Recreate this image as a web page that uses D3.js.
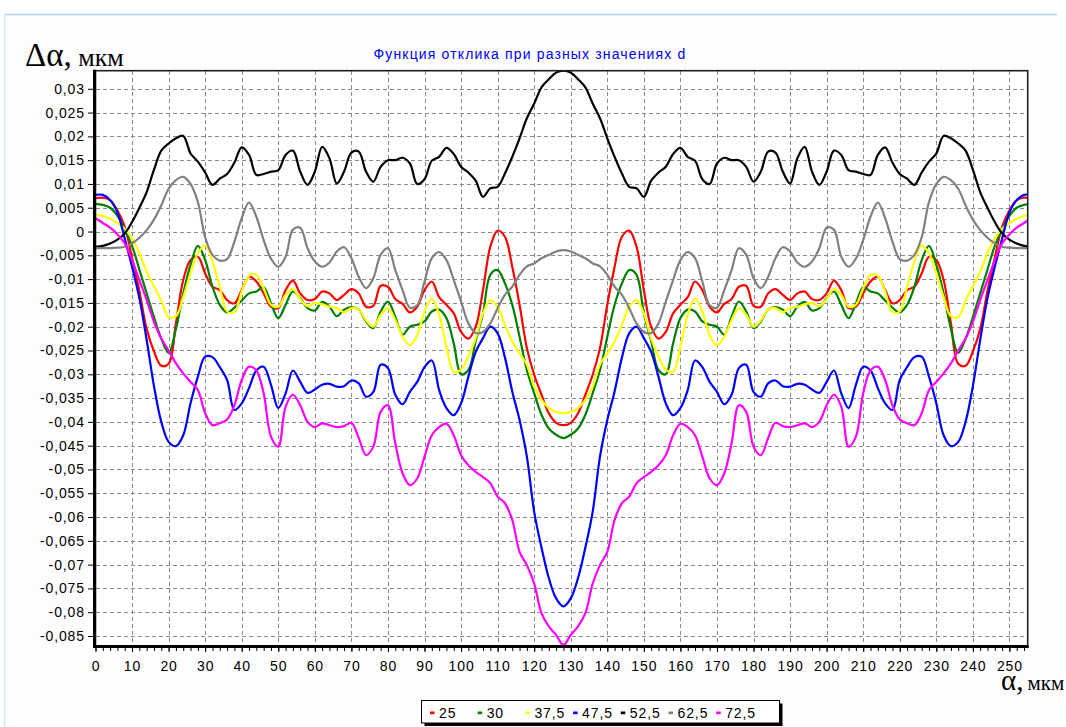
<!DOCTYPE html>
<html><head><meta charset="utf-8">
<script src="https://cdn.jsdelivr.net/npm/d3@7"></script>
<style>body{margin:0;background:#fff}svg{display:block}</style>
</head><body>
<svg id="chart" width="1066" height="727"></svg>
<script>
// ---------- data ----------
const alpha = d3.range(0, 257, 2); // α, мкм (x positions 0..256 step 2)
const seriesNames = ["25", "30", "37,5", "47,5", "52,5", "62,5", "72,5"];
const seriesColors = ["#ff0000", "#008000", "#ffff00", "#0000ff", "#000000", "#808080", "#ff00ff"];
const xTicks = [0,10,20,30,40,50,60,70,80,90,100,110,120,130,140,150,160,170,180,190,200,210,220,230,240,250];
const yTicks = [0.03,0.025,0.02,0.015,0.01,0.005,0,-0.005,-0.01,-0.015,-0.02,-0.025,-0.03,-0.035,-0.04,-0.045,-0.05,-0.055,-0.06,-0.065,-0.07,-0.075,-0.08,-0.085];

const d25 = [0.0070,0.0071,0.0066,0.0044,0.0010,-0.0055,-0.0125,-0.0205,-0.0252,-0.0282,
-0.0278,-0.0193,-0.0102,-0.0060,-0.0053,-0.0088,-0.0116,-0.0123,-0.0144,-0.0151,
-0.0123,-0.0095,-0.0105,-0.0130,-0.0158,-0.0161,-0.0123,-0.0103,-0.0130,-0.0144,
-0.0142,-0.0126,-0.0130,-0.0144,-0.0133,-0.0121,-0.0130,-0.0158,-0.0156,-0.0114,
-0.0116,-0.0142,-0.0152,-0.0170,-0.0158,-0.0123,-0.0105,-0.0138,-0.0154,-0.0172,
-0.0211,-0.0225,-0.0200,-0.0123,-0.0032,0.0002,-0.0011,-0.0074,-0.0154,-0.0245,
-0.0301,-0.0343,-0.0382,-0.0402,-0.0407,
-0.0402,-0.0382,-0.0343,-0.0301,-0.0245,-0.0154,-0.0074,-0.0011,0.0002,-0.0032,
-0.0123,-0.0200,-0.0225,-0.0211,-0.0172,-0.0154,-0.0138,-0.0105,-0.0123,-0.0158,
-0.0170,-0.0152,-0.0142,-0.0116,-0.0114,-0.0156,-0.0158,-0.0130,-0.0121,-0.0133,
-0.0144,-0.0130,-0.0126,-0.0142,-0.0144,-0.0130,-0.0103,-0.0123,-0.0161,-0.0158,
-0.0130,-0.0105,-0.0095,-0.0123,-0.0151,-0.0144,-0.0123,-0.0116,-0.0088,-0.0053,
-0.0060,-0.0102,-0.0193,-0.0278,-0.0282,-0.0252,-0.0205,-0.0125,-0.0055,0.0010,
0.0044,0.0066,0.0071,0.0070];

const d30 = [0.0058,0.0056,0.0050,0.0033,0.0005,-0.0030,-0.0080,-0.0130,-0.0180,-0.0225,
-0.0255,-0.0205,-0.0130,-0.0070,-0.0030,-0.0060,-0.0116,-0.0154,-0.0170,-0.0160,
-0.0145,-0.0130,-0.0126,-0.0117,-0.0151,-0.0182,-0.0154,-0.0126,-0.0140,-0.0161,
-0.0166,-0.0148,-0.0158,-0.0178,-0.0164,-0.0159,-0.0164,-0.0189,-0.0203,-0.0168,
-0.0147,-0.0179,-0.0217,-0.0200,-0.0196,-0.0189,-0.0168,-0.0164,-0.0182,-0.0235,
-0.0300,-0.0291,-0.0230,-0.0172,-0.0091,-0.0081,-0.0109,-0.0154,-0.0221,-0.0291,
-0.0340,-0.0385,-0.0414,-0.0427,-0.0434,
-0.0427,-0.0414,-0.0385,-0.0340,-0.0291,-0.0221,-0.0154,-0.0109,-0.0081,-0.0091,
-0.0172,-0.0230,-0.0291,-0.0300,-0.0235,-0.0182,-0.0164,-0.0168,-0.0189,-0.0196,
-0.0200,-0.0217,-0.0179,-0.0147,-0.0168,-0.0203,-0.0189,-0.0164,-0.0159,-0.0164,
-0.0178,-0.0158,-0.0148,-0.0166,-0.0161,-0.0140,-0.0126,-0.0154,-0.0182,-0.0151,
-0.0117,-0.0126,-0.0130,-0.0145,-0.0160,-0.0170,-0.0154,-0.0116,-0.0060,-0.0030,
-0.0070,-0.0130,-0.0205,-0.0255,-0.0225,-0.0180,-0.0130,-0.0080,-0.0030,0.0005,
0.0033,0.0050,0.0056,0.0058];

const d37_5 = [0.0035,0.0033,0.0027,0.0018,0.0006,-0.0015,-0.0045,-0.0085,-0.0115,-0.0145,
-0.0180,-0.0178,-0.0138,-0.0088,-0.0046,-0.0029,-0.0063,-0.0116,-0.0168,-0.0170,
-0.0126,-0.0093,-0.0091,-0.0119,-0.0154,-0.0158,-0.0133,-0.0121,-0.0142,-0.0157,
-0.0150,-0.0153,-0.0158,-0.0161,-0.0170,-0.0161,-0.0164,-0.0187,-0.0200,-0.0175,
-0.0161,-0.0186,-0.0221,-0.0239,-0.0218,-0.0168,-0.0141,-0.0175,-0.0242,-0.0295,
-0.0290,-0.0262,-0.0225,-0.0172,-0.0144,-0.0158,-0.0196,-0.0231,-0.0256,-0.0280,
-0.0326,-0.0354,-0.0371,-0.0379,-0.0382,
-0.0379,-0.0371,-0.0354,-0.0326,-0.0280,-0.0256,-0.0231,-0.0196,-0.0158,-0.0144,
-0.0172,-0.0225,-0.0262,-0.0290,-0.0295,-0.0242,-0.0175,-0.0141,-0.0168,-0.0218,
-0.0239,-0.0221,-0.0186,-0.0161,-0.0175,-0.0200,-0.0187,-0.0164,-0.0161,-0.0170,
-0.0161,-0.0158,-0.0153,-0.0150,-0.0157,-0.0142,-0.0121,-0.0133,-0.0158,-0.0154,
-0.0119,-0.0091,-0.0093,-0.0126,-0.0170,-0.0168,-0.0116,-0.0063,-0.0029,-0.0046,
-0.0088,-0.0138,-0.0178,-0.0180,-0.0145,-0.0115,-0.0085,-0.0045,-0.0015,0.0006,
0.0018,0.0027,0.0033,0.0035];

const d47_5 = [0.0077,0.0077,0.0066,0.0040,-0.0015,-0.0074,-0.0140,-0.0228,-0.0325,-0.0400,
-0.0442,-0.0451,-0.0428,-0.0361,-0.0305,-0.0263,-0.0264,-0.0285,-0.0312,-0.0375,
-0.0361,-0.0329,-0.0292,-0.0284,-0.0322,-0.0371,-0.0340,-0.0292,-0.0316,-0.0339,
-0.0332,-0.0322,-0.0320,-0.0326,-0.0325,-0.0313,-0.0319,-0.0347,-0.0337,-0.0280,
-0.0287,-0.0343,-0.0363,-0.0337,-0.0316,-0.0285,-0.0271,-0.0333,-0.0371,-0.0386,
-0.0361,-0.0305,-0.0253,-0.0224,-0.0200,-0.0214,-0.0265,-0.0336,-0.0396,-0.0473,
-0.0589,-0.0664,-0.0728,-0.0771,-0.0788,
-0.0771,-0.0728,-0.0664,-0.0589,-0.0473,-0.0396,-0.0336,-0.0265,-0.0214,-0.0200,
-0.0224,-0.0253,-0.0305,-0.0361,-0.0386,-0.0371,-0.0333,-0.0271,-0.0285,-0.0316,
-0.0337,-0.0363,-0.0343,-0.0287,-0.0280,-0.0337,-0.0347,-0.0319,-0.0313,-0.0325,
-0.0326,-0.0320,-0.0322,-0.0332,-0.0339,-0.0316,-0.0292,-0.0340,-0.0371,-0.0322,
-0.0284,-0.0292,-0.0329,-0.0361,-0.0375,-0.0312,-0.0285,-0.0264,-0.0263,-0.0305,
-0.0361,-0.0428,-0.0451,-0.0442,-0.0400,-0.0325,-0.0228,-0.0140,-0.0074,-0.0015,
0.0040,0.0066,0.0077,0.0077];

const d52_5 = [-0.0032,-0.0030,-0.0025,-0.0017,-0.0004,0.0020,0.0050,0.0083,0.0130,0.0170,
0.0185,0.0196,0.0201,0.0164,0.0147,0.0124,0.0098,0.0111,0.0121,0.0145,
0.0177,0.0161,0.0119,0.0121,0.0126,0.0129,0.0161,0.0170,0.0126,0.0098,
0.0126,0.0178,0.0154,0.0101,0.0126,0.0166,0.0168,0.0126,0.0105,0.0136,
0.0150,0.0150,0.0155,0.0143,0.0100,0.0110,0.0149,0.0157,0.0176,0.0163,
0.0136,0.0124,0.0107,0.0073,0.0091,0.0094,0.0122,0.0157,0.0196,0.0238,
0.0269,0.0303,0.0320,0.0334,0.0338,
0.0334,0.0320,0.0303,0.0269,0.0238,0.0196,0.0157,0.0122,0.0094,0.0091,
0.0073,0.0107,0.0124,0.0136,0.0163,0.0176,0.0157,0.0149,0.0110,0.0100,
0.0143,0.0155,0.0150,0.0150,0.0136,0.0105,0.0126,0.0168,0.0166,0.0126,
0.0101,0.0154,0.0178,0.0126,0.0098,0.0126,0.0170,0.0161,0.0129,0.0126,
0.0121,0.0119,0.0161,0.0177,0.0145,0.0121,0.0111,0.0098,0.0124,0.0147,
0.0164,0.0201,0.0196,0.0185,0.0170,0.0130,0.0083,0.0050,0.0020,-0.0004,
-0.0017,-0.0025,-0.0030,-0.0032];

const d62_5 = [-0.0035,-0.0035,-0.0035,-0.0034,-0.0032,-0.0025,-0.0013,0.0003,0.0025,0.0055,
0.0090,0.0108,0.0115,0.0100,0.0062,-0.0012,-0.0049,-0.0061,-0.0058,-0.0021,
0.0028,0.0061,0.0031,-0.0018,-0.0057,-0.0074,-0.0053,0.0004,0.0008,-0.0035,
-0.0063,-0.0074,-0.0065,-0.0042,-0.0033,-0.0056,-0.0095,-0.0119,-0.0098,-0.0049,
-0.0035,-0.0081,-0.0123,-0.0160,-0.0155,-0.0105,-0.0056,-0.0043,-0.0060,-0.0102,
-0.0147,-0.0193,-0.0213,-0.0211,-0.0193,-0.0161,-0.0133,-0.0116,-0.0091,-0.0073,
-0.0067,-0.0056,-0.0049,-0.0042,-0.0039,
-0.0042,-0.0049,-0.0056,-0.0067,-0.0073,-0.0091,-0.0116,-0.0133,-0.0161,-0.0193,
-0.0211,-0.0213,-0.0193,-0.0147,-0.0102,-0.0060,-0.0043,-0.0056,-0.0105,-0.0155,
-0.0160,-0.0123,-0.0081,-0.0035,-0.0049,-0.0098,-0.0119,-0.0095,-0.0056,-0.0033,
-0.0042,-0.0065,-0.0074,-0.0063,-0.0035,0.0008,0.0004,-0.0053,-0.0074,-0.0057,
-0.0018,0.0031,0.0061,0.0028,-0.0021,-0.0058,-0.0061,-0.0049,-0.0012,0.0062,
0.0100,0.0115,0.0108,0.0090,0.0055,0.0025,0.0003,-0.0013,-0.0025,-0.0032,
-0.0034,-0.0035,-0.0035,-0.0035];

const d72_5 = [0.0028,0.0018,0.0008,-0.0006,-0.0025,-0.0060,-0.0102,-0.0144,-0.0190,-0.0225,
-0.0250,-0.0277,-0.0298,-0.0316,-0.0333,-0.0382,-0.0407,-0.0403,-0.0395,-0.0365,
-0.0312,-0.0284,-0.0292,-0.0340,-0.0431,-0.0452,-0.0368,-0.0343,-0.0365,-0.0400,
-0.0411,-0.0403,-0.0407,-0.0411,-0.0409,-0.0402,-0.0434,-0.0470,-0.0452,-0.0379,
-0.0365,-0.0445,-0.0508,-0.0533,-0.0519,-0.0473,-0.0428,-0.0411,-0.0404,-0.0428,
-0.0470,-0.0491,-0.0505,-0.0516,-0.0529,-0.0557,-0.0571,-0.0606,-0.0673,-0.0701,
-0.0740,-0.0802,-0.0830,-0.0848,-0.0869,
-0.0848,-0.0830,-0.0802,-0.0740,-0.0701,-0.0673,-0.0606,-0.0571,-0.0557,-0.0529,
-0.0516,-0.0505,-0.0491,-0.0470,-0.0428,-0.0404,-0.0411,-0.0428,-0.0473,-0.0519,
-0.0533,-0.0508,-0.0445,-0.0365,-0.0379,-0.0452,-0.0470,-0.0434,-0.0402,-0.0409,
-0.0411,-0.0407,-0.0403,-0.0411,-0.0400,-0.0365,-0.0343,-0.0368,-0.0452,-0.0431,
-0.0340,-0.0292,-0.0284,-0.0312,-0.0365,-0.0395,-0.0403,-0.0407,-0.0382,-0.0333,
-0.0316,-0.0298,-0.0277,-0.0250,-0.0225,-0.0190,-0.0144,-0.0102,-0.0060,-0.0025,
-0.0006,0.0008,0.0018,0.0028];

const seriesValues = [d25, d30, d37_5, d47_5, d52_5, d62_5, d72_5];

// ---------- layout ----------
const L = 95.5, R = 1027.7, T = 70.7, B = 646;
const x = d3.scaleLinear().domain([0, 255]).range([L, R]);
const y = d3.scaleLinear().domain([-0.0871, 0.0338]).range([B, T]);
const fmt = v => { const s = String(+v.toFixed(3)); return (s === "-0" ? "0" : s).replace(".", ","); };
const FONT = "'Liberation Sans', Arial, sans-serif";
const SERIF = "'Liberation Serif', 'Times New Roman', serif";

const svg = d3.select("#chart");
svg.append("rect").attr("width", 1066).attr("height", 727).attr("fill", "#ffffff");
svg.append("rect").attr("x", 4).attr("y", 14).attr("width", 1053).attr("height", 720).attr("fill", "#fdfdfd");
svg.append("line").attr("x1", 4).attr("x2", 1057).attr("y1", 14.5).attr("y2", 14.5).attr("stroke", "#a6d2f6").attr("stroke-width", 1.5);
svg.append("line").attr("x1", 4.5).attr("x2", 4.5).attr("y1", 14).attr("y2", 727).attr("stroke", "#c8f2f2").attr("stroke-width", 1.5);

// plot background
svg.append("rect").attr("x", L).attr("y", T).attr("width", R - L).attr("height", B - T).attr("fill", "#ffffff");

// grid
const grid = svg.append("g").attr("stroke", "#8a8a8a").attr("stroke-width", 1).attr("stroke-dasharray", "4,3").attr("shape-rendering", "crispEdges");
grid.selectAll("line.h").data(yTicks).join("line").attr("class", "h")
  .attr("x1", L).attr("x2", R).attr("y1", d => Math.round(y(d)) + 0.5).attr("y2", d => Math.round(y(d)) + 0.5);
grid.selectAll("line.v").data(xTicks.filter(d => d > 0)).join("line").attr("class", "v")
  .attr("y1", T).attr("y2", B).attr("x1", d => Math.round(x(d)) + 0.5).attr("x2", d => Math.round(x(d)) + 0.5);

// clip
svg.append("clipPath").attr("id", "clip").append("rect").attr("x", L).attr("y", T).attr("width", R - L).attr("height", B - T);

// lines
const line = d3.line().x((d, i) => x(alpha[i])).y(d => y(d)).curve(d3.curveCatmullRom.alpha(0.5));
const lg = svg.append("g").attr("clip-path", "url(#clip)");
seriesValues.forEach((vals, k) => {
  lg.append("path").datum(vals).attr("d", line).attr("fill", "none")
    .attr("stroke", seriesColors[k]).attr("stroke-width", 2.2).attr("stroke-linejoin", "round");
});

// frame
svg.append("rect").attr("x", L).attr("y", T).attr("width", R - L).attr("height", B - T)
  .attr("fill", "none").attr("stroke", "#202020").attr("stroke-width", 1.6);
svg.append("line").attr("x1", L - 1).attr("x2", L - 1).attr("y1", T - 1).attr("y2", B + 1.5).attr("stroke", "#000").attr("stroke-width", 3);
svg.append("line").attr("x1", L - 2.5).attr("x2", R + 1).attr("y1", B + 0.5).attr("y2", B + 0.5).attr("stroke", "#000").attr("stroke-width", 3);

// y axis
const yAxis = svg.append("g").attr("transform", `translate(${L - 2.5},0)`)
  .call(d3.axisLeft(y).tickValues(yTicks).tickSize(5).tickPadding(3).tickFormat(fmt));
yAxis.select(".domain").remove();
yAxis.selectAll(".tick line").attr("stroke", "#000").attr("stroke-width", 1);
yAxis.selectAll("text").attr("font-family", FONT).attr("font-size", 14).attr("letter-spacing", "0.9px").attr("fill", "#000");

// x axis minor + major
const xMinor = svg.append("g").attr("transform", `translate(0,${B + 2})`)
  .call(d3.axisBottom(x).tickValues(d3.range(0, 256, 2)).tickSize(3).tickFormat(""));
xMinor.select(".domain").remove();
xMinor.selectAll(".tick line").attr("stroke", "#000");
const xAxis = svg.append("g").attr("transform", `translate(0,${B + 2})`)
  .call(d3.axisBottom(x).tickValues(xTicks).tickSize(4).tickPadding(9).tickFormat(d => String(d)));
xAxis.select(".domain").remove();
xAxis.selectAll(".tick line").attr("stroke", "#000");
xAxis.selectAll("text").attr("font-family", FONT).attr("font-size", 14).attr("letter-spacing", "0.9px").attr("fill", "#000");

// title
svg.append("text").attr("x", 530).attr("y", 59).attr("text-anchor", "middle")
  .attr("font-family", FONT).attr("font-size", 14).attr("letter-spacing", "1.15px").attr("fill", "#0000ff")
  .text("Функция отклика при разных значениях d");

// axis titles
const yt = svg.append("text").attr("x", 25).attr("y", 66).attr("font-family", SERIF).attr("fill", "#000");
yt.append("tspan").attr("font-size", 33).text("Δα,");
yt.append("tspan").attr("font-size", 26).text(" мкм");
const xt = svg.append("text").attr("x", 1001).attr("y", 690).attr("font-family", SERIF).attr("fill", "#000");
xt.append("tspan").attr("font-size", 29).text("α,");
xt.append("tspan").attr("font-size", 21).attr("dx", 4).text("мкм");

// legend
const lgX = 421.5, lgY = 700.5, lgW = 358, lgH = 22.5;
const leg = svg.append("g");
leg.append("rect").attr("x", lgX + 3).attr("y", lgY + 3).attr("width", lgW).attr("height", lgH).attr("fill", "#000");
leg.append("rect").attr("x", lgX).attr("y", lgY).attr("width", lgW).attr("height", lgH).attr("fill", "#fff").attr("stroke", "#000").attr("stroke-width", 1);
seriesNames.forEach((n, i) => {
  const ex = 430 + i * 47.7;
  leg.append("rect").attr("x", ex).attr("y", 711.5).attr("width", 4.5).attr("height", 2.7).attr("fill", seriesColors[i]);
  leg.append("text").attr("x", ex + 9).attr("y", 718).attr("font-family", FONT).attr("font-size", 14)
    .attr("letter-spacing", "0.9px").attr("fill", "#000").text(n);
});
</script>
</body></html>
